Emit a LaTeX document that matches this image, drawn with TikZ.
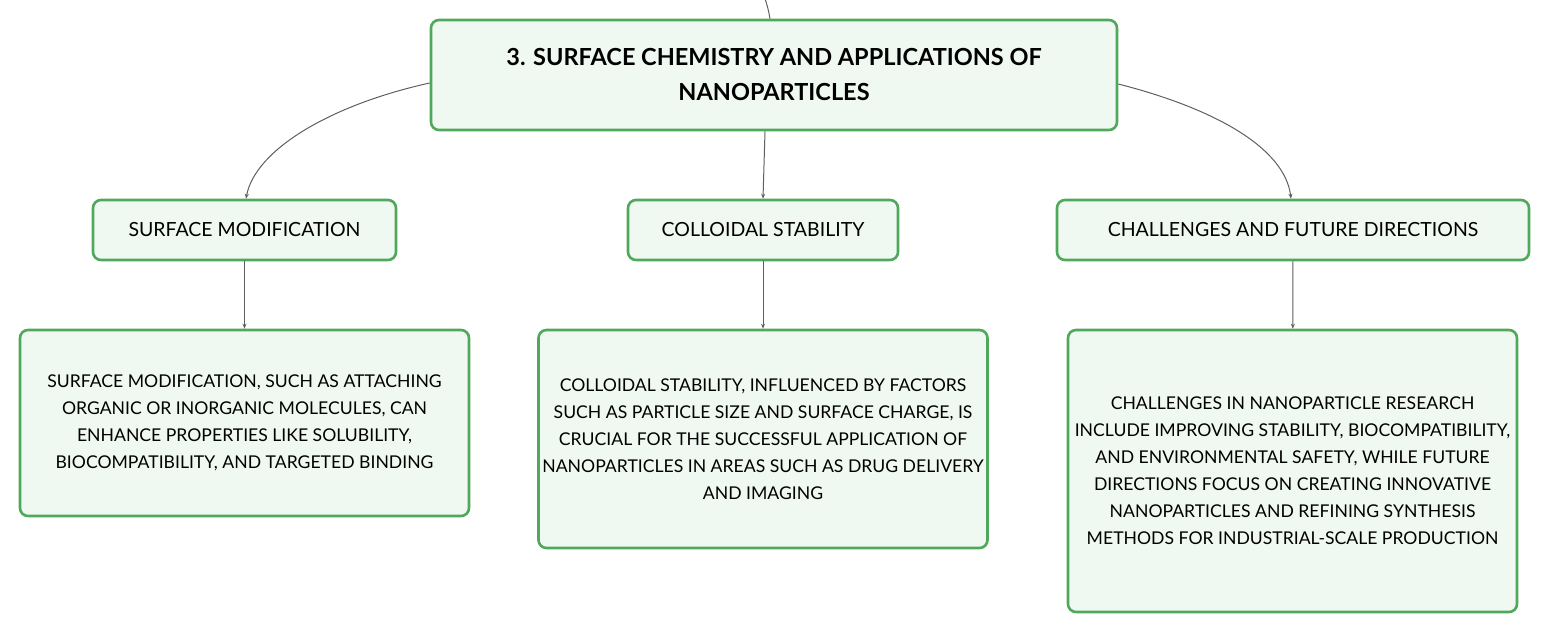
\documentclass[tikz,border=0pt]{standalone}
\usepackage{fontspec}
\setmainfont{Lato}
\usetikzlibrary{arrows.meta, positioning}
\definecolor{boxline}{RGB}{80,168,92}
\definecolor{boxfill}{RGB}{240,249,241}
\definecolor{linkgray}{RGB}{95,95,95}

\begin{document}
\begin{tikzpicture}[x=1pt, y=-1pt,
        box/.style={draw=boxline, line width=2.6pt, rounded corners=8pt, fill=boxfill, align=center, inner sep=0pt},
        link/.style={draw=linkgray, line width=1pt, -{Stealth[length=5pt, width=4pt]}}
      ]
        \useasboundingbox (0,0) rectangle (1549,634);
        % main topic
        \node[box, minimum width=686pt, minimum height=110pt, font=\fontsize{23.5}{35}\selectfont\bfseries] (main) at (774,75) {3. SURFACE CHEMISTRY AND APPLICATIONS OF\\NANOPARTICLES};
        \coordinate (up) at (764,-4);
        \draw[draw=linkgray, line width=1pt] (up) to[bend left=5] (main.north -| 770,0);
        % subtopics
        \node[box, minimum width=303pt, minimum height=60pt, font=\fontsize{19.5}{21}\selectfont] (mod) at (244.5,230) {SURFACE MODIFICATION};
        \node[box, minimum width=270pt, minimum height=60pt, font=\fontsize{19.5}{21}\selectfont] (stab) at (763,230) {COLLOIDAL STABILITY};
        \node[box, minimum width=472pt, minimum height=60pt, font=\fontsize{19.5}{21}\selectfont] (chal) at (1293,230) {CHALLENGES AND FUTURE DIRECTIONS};
        % details
        \node[box, minimum width=449pt, minimum height=186pt, font=\fontsize{17.6}{27}\selectfont] (moddet) at (244.5,423) {SURFACE MODIFICATION, SUCH AS ATTACHING\\ORGANIC OR INORGANIC MOLECULES, CAN\\ENHANCE PROPERTIES LIKE SOLUBILITY,\\BIOCOMPATIBILITY, AND TARGETED BINDING};
        \node[box, minimum width=449pt, minimum height=218pt, font=\fontsize{17.6}{27}\selectfont] (stabdet) at (763,439) {COLLOIDAL STABILITY, INFLUENCED BY FACTORS\\SUCH AS PARTICLE SIZE AND SURFACE CHARGE, IS\\CRUCIAL FOR THE SUCCESSFUL APPLICATION OF\\NANOPARTICLES IN AREAS SUCH AS DRUG DELIVERY\\AND IMAGING};
        \node[box, minimum width=449pt, minimum height=282pt, font=\fontsize{17.6}{27}\selectfont] (chaldet) at (1292.5,471) {CHALLENGES IN NANOPARTICLE RESEARCH\\INCLUDE IMPROVING STABILITY, BIOCOMPATIBILITY,\\AND ENVIRONMENTAL SAFETY, WHILE FUTURE\\DIRECTIONS FOCUS ON CREATING INNOVATIVE\\NANOPARTICLES AND REFINING SYNTHESIS\\METHODS FOR INDUSTRIAL-SCALE PRODUCTION};
        % links
        \draw[link] (main.west |- 0,83) .. controls (330,105) and (255,150) .. (mod.north -| 246,0);
        \draw[link] (main.south -| 765,0) -- (stab.north -| 763,0);
        \draw[link] (main.east |- 0,84) .. controls (1220,110) and (1285,150) .. (chal.north -| 1291,0);
        \draw[link] (mod) -- (moddet);
        \draw[link] (stab) -- (stabdet);
        \draw[link] (chal) -- (chaldet);
      \end{tikzpicture}
\end{document}
